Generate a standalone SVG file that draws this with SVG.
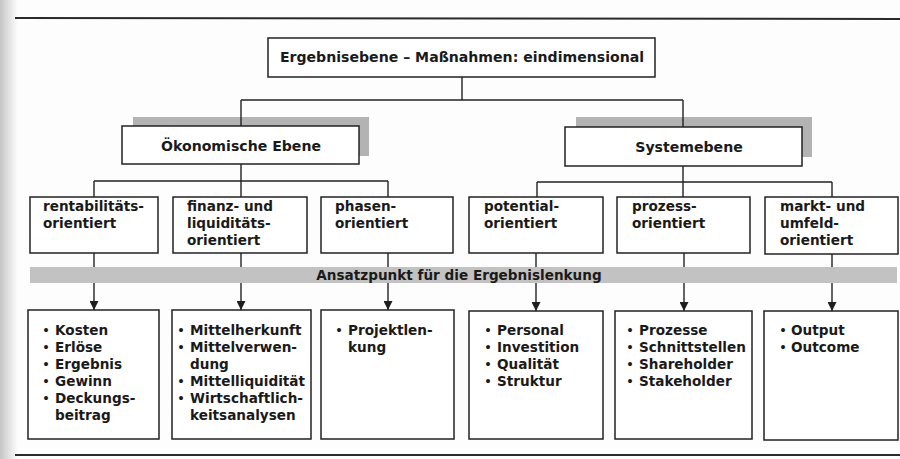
<svg xmlns="http://www.w3.org/2000/svg" width="900" height="459" viewBox="0 0 900 459">
<defs>
<linearGradient id="edge" x1="0" y1="0" x2="1" y2="0">
<stop offset="0" stop-color="#c4c4c4"/>
<stop offset="0.5" stop-color="#e2e2e2"/>
<stop offset="1" stop-color="#fdfdfd"/>
</linearGradient>
<marker id="arr" viewBox="0 0 10 10" refX="10" refY="5" markerWidth="9" markerHeight="9" markerUnits="userSpaceOnUse" orient="auto">
<path d="M0,0 L10,5 L0,10 Z" fill="#1e1e1e"/>
</marker>
<style>
.box{fill:#ffffff;stroke:#222;stroke-width:1.5}
.shadow{fill:#b3b3b3}
.band{fill:#c2c2c2}
.t{font-family:"DejaVu Sans","Liberation Sans",sans-serif;font-weight:bold;font-size:13.6px;fill:#1a1a1a}
.big{font-size:14.1px}
.b{font-weight:normal}
.c{text-anchor:middle}
.ln{stroke:#222;stroke-width:1.4;fill:none}
.rule{stroke:#2a2a2a;stroke-width:2;fill:none}
</style>
</defs>
<rect x="0" y="0" width="900" height="459" fill="#fdfdfd"/>
<rect x="0" y="0" width="18" height="459" fill="url(#edge)"/>
<line class="rule" x1="15" y1="18" x2="900" y2="19"/>
<line class="rule" x1="15" y1="455" x2="900" y2="455" stroke-width="2.5"/>

<g id="n-top">
<rect class="box" x="268" y="38" width="387" height="39"/>
<text class="t big c" x="462" y="62">Ergebnisebene – Maßnahmen: eindimensional</text>
</g>
<g id="n-oek">
<rect class="shadow" x="133" y="117" width="236" height="39"/>
<rect class="box" x="122" y="126" width="237" height="38"/>
<text class="t big c" x="241" y="151">Ökonomische Ebene</text>
</g>
<g id="n-sys">
<rect class="shadow" x="576" y="117" width="236" height="40"/>
<rect class="box" x="565" y="127" width="237" height="39"/>
<text class="t big c" x="689" y="152">Systemebene</text>
</g>

<g id="n-rent">
<rect class="box" x="30" y="197" width="128" height="56"/>
<text class="t" x="43" y="211">rentabilitäts-<tspan x="43" dy="17">orientiert</tspan></text>
</g>
<g id="n-fin">
<rect class="box" x="173" y="197" width="134" height="56"/>
<text class="t" x="187" y="211">finanz- und<tspan x="187" dy="17">liquiditäts-</tspan><tspan x="187" dy="17">orientiert</tspan></text>
</g>
<g id="n-phas">
<rect class="box" x="321" y="197" width="132" height="56"/>
<text class="t" x="335" y="211">phasen-<tspan x="335" dy="17">orientiert</tspan></text>
</g>
<g id="n-pot">
<rect class="box" x="469" y="197" width="134" height="56"/>
<text class="t" x="484" y="211">potential-<tspan x="484" dy="17">orientiert</tspan></text>
</g>
<g id="n-proz">
<rect class="box" x="617" y="197" width="133" height="56"/>
<text class="t" x="632" y="211">prozess-<tspan x="632" dy="17">orientiert</tspan></text>
</g>
<g id="n-markt">
<rect class="box" x="765" y="197" width="133" height="57"/>
<text class="t" x="780" y="211">markt- und<tspan x="780" dy="17">umfeld-</tspan><tspan x="780" dy="17">orientiert</tspan></text>
</g>

<g id="n-l1">
<rect class="box" x="28" y="310" width="131" height="129"/>
<text class="t b" x="42" y="335">•<tspan x="42" dy="17">•</tspan><tspan x="42" dy="17">•</tspan><tspan x="42" dy="17">•</tspan><tspan x="42" dy="17">•</tspan></text>
<text class="t" x="55" y="335">Kosten<tspan x="55" dy="17">Erlöse</tspan><tspan x="55" dy="17">Ergebnis</tspan><tspan x="55" dy="17">Gewinn</tspan><tspan x="55" dy="17">Deckungs-</tspan><tspan x="55" dy="17">beitrag</tspan></text>
</g>
<g id="n-l2">
<rect class="box" x="172" y="310" width="139" height="129"/>
<text class="t b" x="177" y="335">•<tspan x="177" dy="17">•</tspan><tspan x="177" dy="34">•</tspan><tspan x="177" dy="17">•</tspan></text>
<text class="t" x="190" y="335">Mittelherkunft<tspan x="190" dy="17">Mittelverwen-</tspan><tspan x="190" dy="17">dung</tspan><tspan x="190" dy="17">Mittelliquidität</tspan><tspan x="190" dy="17">Wirtschaftlich-</tspan><tspan x="190" dy="17">keitsanalysen</tspan></text>
</g>
<g id="n-l3">
<rect class="box" x="321" y="310" width="133" height="129"/>
<text class="t b" x="335" y="335">•</text>
<text class="t" x="348" y="335">Projektlen-<tspan x="348" dy="17">kung</tspan></text>
</g>
<g id="n-l4">
<rect class="box" x="469" y="311" width="134" height="128"/>
<text class="t b" x="484" y="335">•<tspan x="484" dy="17">•</tspan><tspan x="484" dy="17">•</tspan><tspan x="484" dy="17">•</tspan></text>
<text class="t" x="497" y="335">Personal<tspan x="497" dy="17">Investition</tspan><tspan x="497" dy="17">Qualität</tspan><tspan x="497" dy="17">Struktur</tspan></text>
</g>
<g id="n-l5">
<rect class="box" x="615" y="311" width="137" height="128"/>
<text class="t b" x="626" y="335">•<tspan x="626" dy="17">•</tspan><tspan x="626" dy="17">•</tspan><tspan x="626" dy="17">•</tspan></text>
<text class="t" x="639" y="335">Prozesse<tspan x="639" dy="17">Schnittstellen</tspan><tspan x="639" dy="17">Shareholder</tspan><tspan x="639" dy="17">Stakeholder</tspan></text>
</g>
<g id="n-l6">
<rect class="box" x="764" y="311" width="134" height="129"/>
<text class="t b" x="779" y="335">•<tspan x="779" dy="17">•</tspan></text>
<text class="t" x="791" y="335">Output<tspan x="791" dy="17">Outcome</tspan></text>
</g>

<g id="connectors">
<path class="ln" d="M462,77 V100 M241,100 H683 M241,100 V126 M683,100 V127"/>
<path class="ln" d="M241,164 V181 M94,181 H388 M94,181 V197 M241,181 V197 M388,181 V197"/>
<path class="ln" d="M683,166 V182 M537,182 H832 M537,182 V197 M683,182 V197 M832,182 V197"/>
<line class="ln" x1="94" y1="253" x2="94" y2="310" marker-end="url(#arr)"/>
<line class="ln" x1="241" y1="253" x2="241" y2="310" marker-end="url(#arr)"/>
<line class="ln" x1="388" y1="253" x2="388" y2="310" marker-end="url(#arr)"/>
<line class="ln" x1="536" y1="253" x2="536" y2="311" marker-end="url(#arr)"/>
<line class="ln" x1="684" y1="253" x2="684" y2="311" marker-end="url(#arr)"/>
<line class="ln" x1="832" y1="254" x2="832" y2="311" marker-end="url(#arr)"/>
</g>

<g id="n-band">
<rect class="band" x="30" y="267" width="867" height="16"/>
<text class="t c" x="459" y="280">Ansatzpunkt für die Ergebnislenkung</text>
</g>
</svg>
